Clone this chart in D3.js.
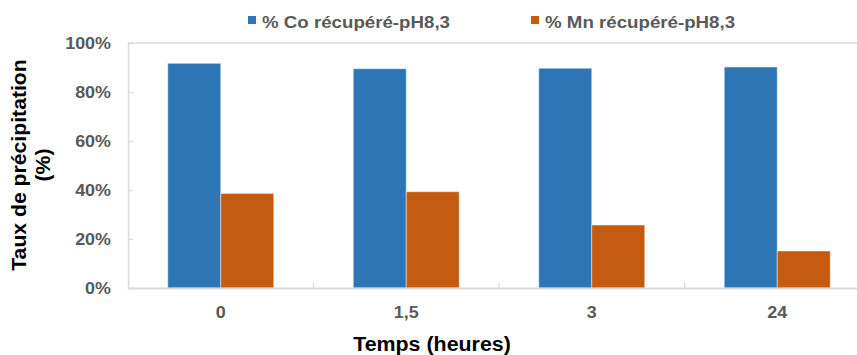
<!DOCTYPE html>
<html><head><meta charset="utf-8">
<script src="https://cdn.jsdelivr.net/npm/d3@7"></script>
<style>body{margin:0;background:#fff}svg{display:block;font-family:"Liberation Sans",Arial,sans-serif}</style>
</head><body>
<svg id="c" width="857" height="355"></svg>
<script>
const categories = ["0", "1,5", "3", "24"];
const seriesNames = ["% Co récupéré-pH8,3", "% Mn récupéré-pH8,3"];
const coValues = [0.917, 0.895, 0.897, 0.902];
const mnValues = [0.386, 0.393, 0.257, 0.151];
const yTicks = [0, 0.2, 0.4, 0.6, 0.8, 1.0];
const colors = ["#2e75b6", "#c55a11"];
const xTitle = "Temps (heures)";
const yTitle = ["Taux de précipitation", "(%)"];

(function () {
const svg = d3.select("#c");
const pL = 128, pR = 870, pT = 43, pB = 288;
const SX = 1.12;

const x = d3.scaleBand().domain(categories).range([pL, pR]).padding(0);
const xs = d3.scaleBand().domain(seriesNames).range([0, x.bandwidth()]).paddingInner(0).paddingOuter(0.75);
const y = d3.scaleLinear().domain([0, 1]).range([pB, pT]);

// frame (top)
svg.append("line").attr("x1", pL).attr("x2", 857).attr("y1", pT).attr("y2", pT)
  .attr("stroke", "#d9d9d9").attr("stroke-width", 1.5);

// y axis
const ya = svg.append("g").attr("transform", `translate(${pL},0)`)
  .call(d3.axisLeft(y).tickValues(yTicks).tickSize(-5).tickFormat(""));
ya.select(".domain").attr("stroke", "#d9d9d9").attr("stroke-width", 1.5);
ya.selectAll(".tick line").attr("stroke", "#d9d9d9").attr("stroke-width", 1.2);

// bars
const data = [coValues, mnValues];
seriesNames.forEach((s, si) => {
  svg.append("g").selectAll("rect").data(categories).join("rect")
    .attr("x", c => x(c) + xs(s))
    .attr("y", (c, i) => y(data[si][i]))
    .attr("width", xs.bandwidth())
    .attr("height", (c, i) => y(0) - y(data[si][i]))
    .attr("fill", colors[si])
    .attr("stroke", "#ffffff").attr("stroke-opacity", 0.45).attr("stroke-width", 1);
});

// x axis
const xa = svg.append("g").attr("transform", `translate(0,${pB})`)
  .call(d3.axisBottom(x).tickSize(0).tickFormat(""));
xa.select(".domain").attr("stroke", "#d9d9d9").attr("stroke-width", 2);
svg.append("g").selectAll("line").data(categories.slice(1)).join("line")
  .attr("x1", c => x(c)).attr("x2", c => x(c))
  .attr("y1", pB).attr("y2", pB - 5)
  .attr("stroke", "#d9d9d9").attr("stroke-width", 1.2);

// y tick labels
svg.append("g").selectAll("text").data(yTicks).join("text")
  .attr("transform", d => `translate(111,${y(d) + 5.8}) scale(${SX},1)`)
  .attr("text-anchor", "end").attr("font-size", 16).attr("font-weight", "bold")
  .attr("fill", "#595959").text(d3.format(".0%"));

// x tick labels
svg.append("g").selectAll("text").data(categories).join("text")
  .attr("transform", c => `translate(${x(c) + x.bandwidth() / 2},318) scale(${SX},1)`)
  .attr("text-anchor", "middle").attr("font-size", 16).attr("font-weight", "bold")
  .attr("fill", "#595959").text(c => c);

// x title
svg.append("text").attr("transform", `translate(432,351) scale(1.07,1)`)
  .attr("text-anchor", "middle").attr("font-size", 20).attr("font-weight", "bold")
  .attr("fill", "#000").text(xTitle);

// y title
yTitle.forEach((t, i) => {
  svg.append("text").attr("transform", `translate(${26 + i * 24},165) rotate(-90) scale(1.06,1)`)
    .attr("text-anchor", "middle").attr("font-size", 20).attr("font-weight", "bold")
    .attr("fill", "#000").text(t);
});

// legend
const legX = [248, 531];
seriesNames.forEach((s, i) => {
  svg.append("rect").attr("x", legX[i]).attr("y", 16).attr("width", 8).attr("height", 8).attr("fill", colors[i]);
  svg.append("text").attr("transform", `translate(${legX[i] + 14},27.5) scale(1.1,1)`)
    .attr("font-size", 17).attr("font-weight", "bold").attr("fill", "#595959").text(s);
});
})();
</script>
</body></html>
